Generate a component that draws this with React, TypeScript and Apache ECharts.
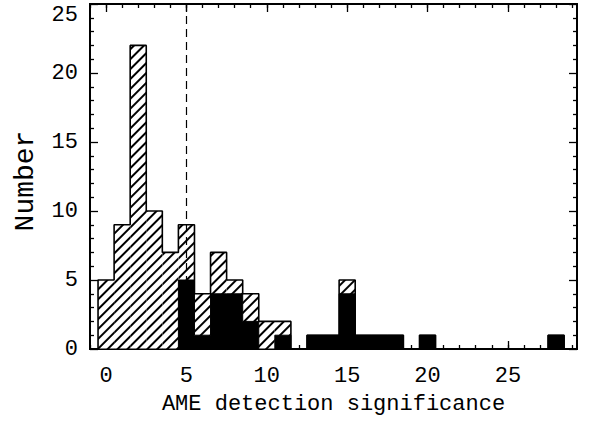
import React, { useEffect, useRef } from "react";
import * as echarts from "echarts";

// Histogram bins (bin centres, bin width = 1)
const binCenters = [0, 1, 2, 3, 4, 5, 6, 7, 8, 9, 10, 11, 12, 13, 14, 15, 16, 17, 18, 19, 20, 21, 22, 23, 24, 25, 26, 27, 28];
// All sources (hatched histogram)
const allCounts = [5, 9, 22, 10, 7, 9, 4, 7, 5, 4, 2, 2, 0, 1, 1, 5, 1, 1, 1, 0, 1, 0, 0, 0, 0, 0, 0, 0, 1];
// Significant sources (filled histogram)
const filledCounts = [0, 0, 0, 0, 0, 5, 1, 4, 4, 2, 0, 1, 0, 1, 1, 4, 1, 1, 1, 0, 1, 0, 0, 0, 0, 0, 0, 0, 1];
// Tick values
const xMajorTicks = [0, 5, 10, 15, 20, 25];
const xMinorTicks = [-1, 0, 1, 2, 3, 4, 5, 6, 7, 8, 9, 10, 11, 12, 13, 14, 15, 16, 17, 18, 19, 20, 21, 22, 23, 24, 25, 26, 27, 28, 29];
const threshold = 5;
const xName = "AME detection significance";
const yName = "Number";

export default function App() {
  const ref = useRef<HTMLDivElement>(null);

  useEffect(() => {
    if (!ref.current) return;
    const chart = echarts.init(ref.current, undefined, { renderer: "svg" });

    const font = { fontFamily: "Liberation Mono", fontSize: 22, color: "#000" };
    const axisLine = { show: true, onZero: false, lineStyle: { color: "#000", width: 2 } };
    const majorTick = (vals: number[]) => ({
      show: true, inside: true, length: 8, customValues: vals,
      lineStyle: { color: "#000", width: 1.3 },
    });
    const minorTickAx = (vals: number[]) => ({
      show: true, inside: true, length: 4, customValues: vals,
      lineStyle: { color: "#000", width: 1.3 },
    });
    const xBase = { type: "value", min: -1, max: 29.3, splitLine: { show: false }, axisLine };

    const stepPoints = (counts: number[]) => {
      const pts: number[][] = [[binCenters[0] - 0.5, 0]];
      binCenters.forEach((c, i) => pts.push([c - 0.5, counts[i]]));
      pts.push([binCenters[binCenters.length - 1] + 0.5, 0]);
      return pts;
    };

    const yBase = {
      type: "value", min: 0, max: 25, interval: 5, splitLine: { show: false }, axisLine,
      axisTick: { show: true, inside: true, length: 8, lineStyle: { color: "#000", width: 1.3 } },
      minorTick: { show: true, splitNumber: 5, length: 4, lineStyle: { color: "#000", width: 1.3 } },
    };

    chart.setOption({
      animation: false,
      backgroundColor: "#fff",
      grid: { left: 90, right: 22, top: 4, bottom: 74, containLabel: false, outerBoundsMode: "none" },
      xAxis: [
        {
          ...xBase, position: "bottom",
          name: xName, nameLocation: "middle", nameGap: 44, nameTextStyle: font,
          axisLabel: { show: true, customValues: xMajorTicks, margin: 16, ...font },
          axisTick: majorTick(xMajorTicks),
        },
        { ...xBase, position: "bottom", axisLabel: { show: false }, axisTick: minorTickAx(xMinorTicks) },
        { ...xBase, position: "top", axisLabel: { show: false }, axisTick: majorTick(xMajorTicks) },
        { ...xBase, position: "top", axisLabel: { show: false }, axisTick: minorTickAx(xMinorTicks) },
      ],
      yAxis: [
        {
          ...yBase, position: "left",
          axisLabel: { show: true, margin: 12, verticalAlignMaxLabel: "top", ...font },
        },
        { ...yBase, position: "right", axisLabel: { show: false } },
      ],
      graphic: [
        {
          type: "text", x: 25, y: 181, rotation: Math.PI / 2,
          style: {
            text: yName, fontFamily: "Liberation Mono", fontSize: 28, fill: "#000",
            align: "center", verticalAlign: "middle",
          },
        },
      ],
      series: [
        {
          type: "bar", name: "all",
          data: binCenters.map((c, i) => [c, allCounts[i]]),
          barWidth: "100%", barGap: "-100%", barCategoryGap: "0%",
          itemStyle: {
            color: "#fff",
            decal: {
              symbol: "rect", symbolSize: 1, color: "#000",
              dashArrayX: [1, 0], dashArrayY: [1.3, 4.4], rotation: -Math.PI / 4,
            },
          },
          z: 2,
        },
        {
          type: "line", name: "filled",
          data: stepPoints(filledCounts), step: "end", symbol: "none",
          lineStyle: { color: "#000", width: 1 },
          areaStyle: { color: "#000", opacity: 1, origin: "start" },
          z: 3,
        },
        {
          type: "line", name: "outline",
          data: stepPoints(allCounts), step: "end", symbol: "none",
          lineStyle: { color: "#000", width: 1.6 },
          z: 4,
          markLine: {
            silent: true, symbol: ["none", "none"], label: { show: false },
            lineStyle: { color: "#000", width: 1.2, type: [8, 5] },
            data: [{ xAxis: threshold }],
          },
        },
      ],
    });

    return () => chart.dispose();
  }, []);

  return <div ref={ref} style={{ position: "fixed", left: 0, top: 0, width: 599, height: 423 }} />;
}
